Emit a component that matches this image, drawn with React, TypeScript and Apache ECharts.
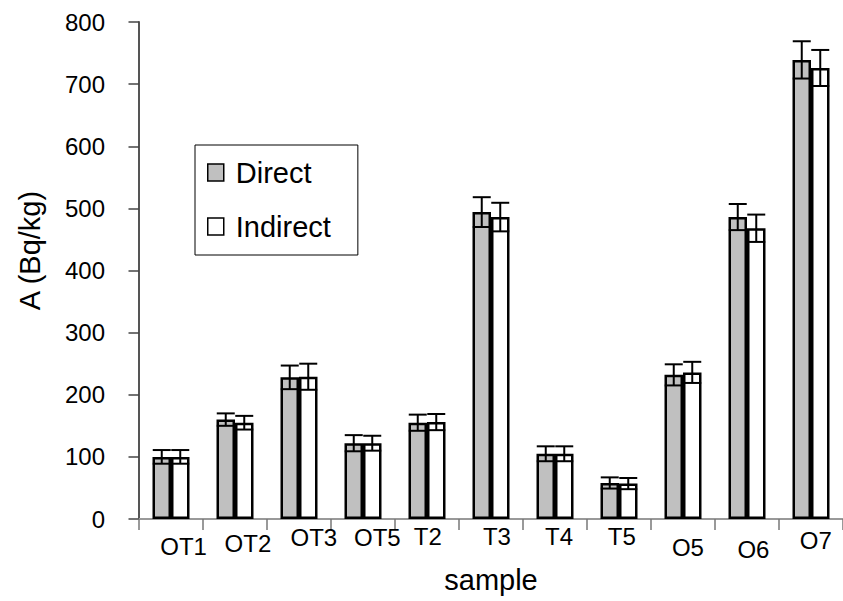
import React, { useEffect, useRef } from "react";
import * as echarts from "echarts";

const categories = ["OT1", "OT2", "OT3", "OT5", "T2", "T3", "T4", "T5", "O5", "O6", "O7"];
const directValues = [100, 160, 228, 122, 155, 494, 105, 58, 232, 486, 739];
const indirectValues = [100, 155, 229, 122, 156, 486, 105, 57, 236, 468, 726];
const directErrors = [11, 10, 19, 13, 13, 24, 12, 9, 17, 21, 30];
const indirectErrors = [11, 11, 21, 12, 13, 23, 12, 9, 17, 22, 29];
const yTicks = [0, 100, 200, 300, 400, 500, 600, 700, 800];

// label offsets (dx, dy) for the irregular placement of category labels
const labelShiftX = [12.6, 12.9, 14.8, 14.3, 0.8, 5.9, 4, 2.8, 4.9, 6.4, 4.8];
const labelShiftY = [10.5, 7.5, 1.3, 1.5, 0, 0, 0, 0, 11.3, 13, 4.8];

const FONT = "'Liberation Sans', Arial, Helvetica, sans-serif";
const BAR_W = 18.5;

export default function App() {
  const ref = useRef<HTMLDivElement>(null);

  useEffect(() => {
    if (!ref.current) return;
    const chart = echarts.init(ref.current, undefined, { renderer: "svg" });

    const makeErr = (vals: number[], errs: number[], offset: number) => ({
      type: "custom",
      z: 10,
      silent: true,
      data: vals.map((v, i) => [i, v, errs[i]]),
      renderItem: (params: any, api: any) => {
        const idx = api.value(0);
        const v = api.value(1);
        const e = api.value(2);
        const x = api.coord([idx, 0])[0] + offset;
        const yTop = api.coord([idx, v + e])[1];
        const yBot = api.coord([idx, v - e])[1];
        const half = 9;
        const st = { stroke: "#000", lineWidth: 2 };
        return {
          type: "group",
          children: [
            { type: "line", shape: { x1: x, y1: yTop, x2: x, y2: yBot }, style: st },
            { type: "line", shape: { x1: x - half, y1: yTop, x2: x + half, y2: yTop }, style: st },
            { type: "line", shape: { x1: x - half, y1: yBot, x2: x + half, y2: yBot }, style: st },
          ],
        };
      },
    });

    const option: any = {
      animation: false,
      backgroundColor: "#fff",
      textStyle: { fontFamily: FONT, color: "#000" },
      grid: { left: 139, right: -10, top: 22, bottom: 82, containLabel: false },
      legend: {
        orient: "vertical",
        left: 195,
        top: 145,
        padding: [13, 27, 14, 12],
        itemGap: 25,
        itemWidth: 16,
        itemHeight: 17,
        backgroundColor: "#fff",
        borderColor: "#000",
        borderWidth: 1,
        icon: "rect",
        textStyle: { fontFamily: FONT, fontSize: 29, color: "#000", padding: [0, 0, 0, 7] },
        data: [
          { name: "Direct", itemStyle: { color: "#c0c0c0", borderColor: "#000", borderWidth: 1.5 } },
          { name: "Indirect", itemStyle: { color: "#fff", borderColor: "#000", borderWidth: 1.5 } },
        ],
      },
      xAxis: [
        {
          type: "category",
          data: categories.map((c, i) => ({
            value: c,
            textStyle: { padding: [labelShiftY[i], 0, 0, 2 * labelShiftX[i]] },
          })),
          name: "sample",
          nameLocation: "middle",
          nameGap: 44,
          nameTextStyle: { fontFamily: FONT, fontSize: 29, color: "#000" },
          axisLine: { show: true, onZero: false, lineStyle: { color: "#111", width: 1.5 } },
          axisTick: { show: true, length: 11, alignWithLabel: false, lineStyle: { color: "#777", width: 1.5 } },
          axisLabel: { fontFamily: FONT, fontSize: 24, color: "#000", margin: 5, interval: 0 },
          splitLine: { show: false },
        },
        {
          type: "category",
          position: "top",
          data: categories,
          axisLine: { show: true, lineStyle: { color: "#999", width: 2 } },
          axisTick: { show: false },
          axisLabel: { show: false },
        },
      ],
      yAxis: {
        type: "value",
        min: 0,
        max: 800,
        interval: 100,
        name: "A (Bq/kg)",
        nameLocation: "middle",
        nameGap: 95,
        nameTextStyle: { fontFamily: FONT, fontSize: 29, color: "#000", padding: [0, 0, 0, 40] },
        axisLine: { show: true, lineStyle: { color: "#555", width: 2 } },
        axisTick: { show: true, length: 10.5, lineStyle: { color: "#444", width: 1.5 } },
        axisLabel: {
          fontFamily: FONT,
          fontSize: 24,
          color: "#000",
          margin: 34,
          padding: [0, 0, 9, 0],
          formatter: (v: number) => (yTicks.includes(v) ? String(v) : ""),
        },
        splitLine: { show: false },
      },
      series: [
        {
          name: "Direct",
          type: "bar",
          barWidth: BAR_W,
          barGap: "0%",
          data: directValues,
          itemStyle: { color: "#c0c0c0", borderColor: "#000", borderWidth: 2.5 },
        },
        {
          name: "Indirect",
          type: "bar",
          barWidth: BAR_W,
          barGap: "0%",
          data: indirectValues,
          itemStyle: { color: "#fff", borderColor: "#000", borderWidth: 2.5 },
        },
        makeErr(directValues, directErrors, -BAR_W / 2),
        makeErr(indirectValues, indirectErrors, BAR_W / 2),
      ],
    };

    chart.setOption(option);
    return () => chart.dispose();
  }, []);

  return (
    <div
      ref={ref}
      style={{ position: "fixed", left: 0, top: 0, width: 843, height: 601, background: "#fff" }}
    />
  );
}
